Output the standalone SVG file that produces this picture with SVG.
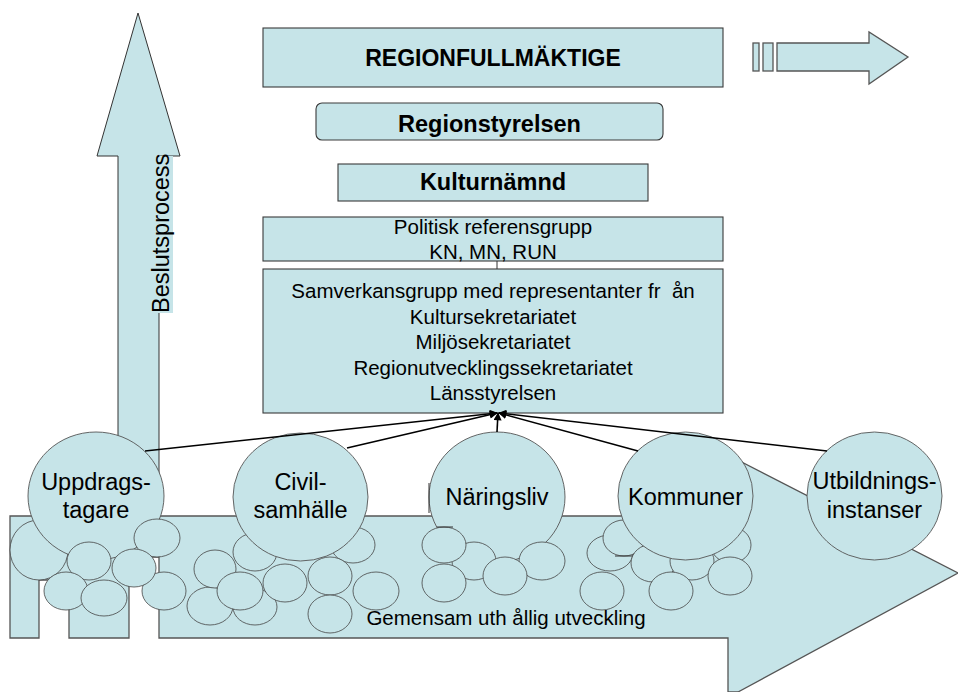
<svg xmlns="http://www.w3.org/2000/svg" width="958" height="692" viewBox="0 0 958 692">
<style>
.f{fill:#C6E4E8;stroke:#3a3a3a;stroke-width:1.1}
.sh{fill:#C6E4E8;stroke:#555;stroke-width:1.3}
.bc{fill:#C6E4E8;stroke:#555;stroke-width:0.9}
.sc{fill:#C6E4E8;stroke:#444;stroke-width:0.8}
.t{font-family:"Liberation Sans",Arial,sans-serif;fill:#000;text-anchor:middle}
.b{font-weight:bold}
.c{stroke:#000;stroke-width:1.6;fill:none;marker-end:url(#ah)}
.ln{stroke:#333;stroke-width:1;fill:none}
</style>
<defs>
<marker id="ah" viewBox="0 0 10 10" refX="9" refY="5" markerWidth="10" markerHeight="8" markerUnits="userSpaceOnUse" orient="auto">
<path d="M0,0 L10,5 L0,10 Z" fill="#000"/>
</marker>
</defs>

<!-- horizontal development arrow -->
<g id="dev-arrow">
<path class="sh" d="M10,516 H728 V455 L958,573 L738,692 H728 V638 H159 V557 H129 V638 H69 V580 H39 V638 H10 Z"/>
</g>

<!-- vertical decision arrow -->
<g id="decision-arrow">
<path d="M118,520 V156 H97 L138,13 L180,156 H159 V520 Z" fill="#C6E4E8"/>
<polyline class="ln" points="118,470 118,156 97,156 138,13 180,156 159,156" stroke="#555"/>
<rect x="150" y="156" width="23" height="157" fill="#C6E4E8"/>
<line class="ln" x1="159" y1="313" x2="159" y2="557" stroke="#222"/>
<text class="t" transform="translate(169,313) rotate(-90)" style="text-anchor:start" font-size="23.5">Beslutsprocess</text>
</g>

<!-- top right arrow -->
<g id="side-arrow">
<rect class="sh" x="753" y="43" width="6" height="28"/>
<rect class="sh" x="763" y="43" width="10" height="28"/>
<path class="sh" d="M777,43 H869 V32 L908,57 L869,84 V71 H777 Z"/>
</g>

<g id="regionfullmaktige">
<rect class="f" x="263" y="28" width="460" height="59"/>
<text class="t b" x="493" y="66" font-size="23">REGIONFULLMÄKTIGE</text>
</g>
<g id="regionstyrelsen">
<rect class="f" x="316" y="103" width="347" height="37" rx="6"/>
<text class="t b" x="489.5" y="132" font-size="23.5">Regionstyrelsen</text>
</g>
<g id="kulturnamnd">
<rect class="f" x="338" y="164" width="310" height="37"/>
<text class="t b" x="493" y="190" font-size="23.5">Kulturnämnd</text>
</g>
<g id="politisk">
<rect class="f" x="263" y="217" width="460" height="44"/>
<text class="t" x="493" y="234" font-size="20.5">Politisk referensgrupp</text>
<text class="t" x="493" y="259" font-size="20.5">KN, MN, RUN</text>
</g>
<g id="samverkansgrupp">
<rect class="f" x="263" y="269" width="460" height="144"/>
<text class="t" x="493" y="298" font-size="20.5" xml:space="preserve">Samverkansgrupp med representanter fr  ån</text>
<text class="t" x="493" y="324" font-size="20.5">Kultursekretariatet</text>
<text class="t" x="493" y="349" font-size="20.5">Miljösekretariatet</text>
<text class="t" x="493" y="375" font-size="20.5">Regionutvecklingssekretariatet</text>
<text class="t" x="493" y="400" font-size="20.5">Länsstyrelsen</text>
</g>

<g id="uppdragstagare">
<ellipse class="sc" cx="39" cy="550" rx="29" ry="30"/>
<ellipse class="bc" cx="96" cy="496" rx="68" ry="64"/>
<ellipse class="sc" cx="157" cy="538" rx="23" ry="19"/>
<ellipse class="sc" cx="164" cy="591" rx="22" ry="19"/>
<ellipse class="sc" cx="89" cy="561" rx="22" ry="19"/>
<ellipse class="sc" cx="66" cy="591" rx="22" ry="19"/>
<ellipse class="sc" cx="134" cy="568" rx="22" ry="19"/>
<ellipse class="sc" cx="104" cy="598" rx="23" ry="18"/>
<text class="t" x="96" y="490" font-size="23.5">Uppdrags-</text>
<text class="t" x="96" y="518" font-size="23.5">tagare</text>
</g>

<g id="civilsamhalle">
<ellipse class="sc" cx="255" cy="552" rx="22" ry="19"/>
<ellipse class="sc" cx="353" cy="545" rx="22" ry="18"/>
<ellipse class="bc" cx="300.5" cy="497" rx="67.5" ry="64"/>
<ellipse class="sc" cx="210" cy="606" rx="23" ry="19"/>
<ellipse class="sc" cx="255" cy="607" rx="22" ry="18"/>
<ellipse class="sc" cx="215" cy="569" rx="21" ry="19"/>
<ellipse class="sc" cx="240" cy="591" rx="23" ry="19"/>
<ellipse class="sc" cx="285" cy="583" rx="22" ry="19"/>
<ellipse class="sc" cx="330" cy="576" rx="22" ry="19"/>
<ellipse class="sc" cx="330" cy="614" rx="22" ry="19"/>
<ellipse class="sc" cx="376" cy="591" rx="23" ry="19"/>
<text class="t" x="300.5" y="490" font-size="23.5">Civil-</text>
<text class="t" x="300.5" y="518" font-size="23.5">samhälle</text>
</g>

<g id="naringsliv">
<ellipse class="bc" cx="497" cy="497" rx="68" ry="65"/>
<line class="ln" x1="429" y1="483" x2="429" y2="513"/>
<ellipse class="sc" cx="474" cy="561" rx="22" ry="19"/>
<ellipse class="sc" cx="444" cy="545" rx="22" ry="18"/>
<line class="ln" x1="437" y1="527" x2="453" y2="527"/>
<ellipse class="sc" cx="444" cy="583" rx="22" ry="19"/>
<ellipse class="sc" cx="542" cy="561" rx="23" ry="19"/>
<ellipse class="sc" cx="505" cy="576" rx="22" ry="19"/>
<text class="t" x="497" y="505" font-size="23.5">Näringsliv</text>
</g>

<g id="kommuner">
<ellipse class="sc" cx="610" cy="553" rx="23" ry="18"/>
<ellipse class="sc" cx="624" cy="538" rx="21" ry="18"/>
<line class="ln" x1="615" y1="556" x2="633" y2="556"/>
<ellipse class="sc" cx="653" cy="563" rx="22" ry="19"/>
<ellipse class="sc" cx="692" cy="561" rx="22" ry="19"/>
<ellipse class="sc" cx="731" cy="545" rx="20" ry="18"/>
<ellipse class="bc" cx="685.5" cy="496" rx="67.5" ry="64"/>
<ellipse class="sc" cx="602" cy="591" rx="22" ry="19"/>
<ellipse class="sc" cx="671" cy="591" rx="22" ry="19"/>
<ellipse class="sc" cx="730" cy="576" rx="22" ry="19"/>
<text class="t" x="685.5" y="505" font-size="23.5">Kommuner</text>
</g>

<g id="utbildningsinstanser">
<ellipse class="bc" cx="874.5" cy="496" rx="67.5" ry="64"/>
<text class="t" x="874.5" y="489" font-size="23.5">Utbildnings-</text>
<text class="t" x="874.5" y="518" font-size="23.5">instanser</text>
</g>

<text class="t" x="506" y="625" font-size="20.5" xml:space="preserve">Gemensam uth ållig utveckling</text>

<g id="connectors">
<line class="ln" x1="497" y1="261" x2="497" y2="269"/>
<line class="c" x1="145" y1="451" x2="497" y2="413"/>
<line class="c" x1="347" y1="448" x2="497" y2="413"/>
<line class="c" x1="497" y1="432" x2="498" y2="413"/>
<line class="c" x1="638" y1="451" x2="499" y2="413"/>
<line class="c" x1="827" y1="451" x2="499" y2="413"/>
</g>
</svg>
